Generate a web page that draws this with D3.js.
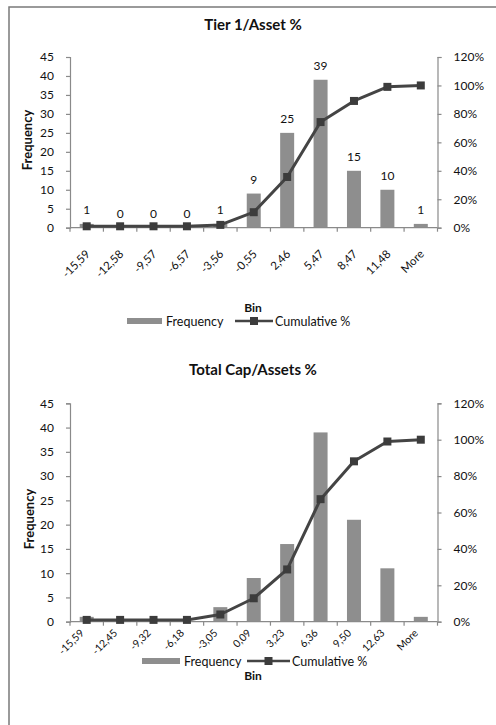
<!DOCTYPE html>
<html>
<head>
<meta charset="utf-8">
<script src="https://cdn.jsdelivr.net/npm/d3@7"></script>
<style>
  html, body { margin: 0; padding: 0; background: #fff; }
  svg { display: block; font-family: Lato, "Open Sans", sans-serif; }
</style>
</head>
<body>
<svg id="chart" width="496" height="725"></svg>
<script>
// Histogram bins and counts for the two capital ratios
const tierBins = ["-15,59", "-12,58", "-9,57", "-6,57", "-3,56", "-0,55", "2,46", "5,47", "8,47", "11,48", "More"];
const tierFreq = [1, 0, 0, 0, 1, 9, 25, 39, 15, 10, 1];

const totalBins = ["-15,59", "-12,45", "-9,32", "-6,18", "-3,05", "0,09", "3,23", "6,36", "9,50", "12,63", "More"];
const totalFreq = [1, 0, 0, 0, 3, 9, 16, 39, 21, 11, 1];

const freqTicks = [0, 5, 10, 15, 20, 25, 30, 35, 40, 45];
const pctTicks = [0, 0.2, 0.4, 0.6, 0.8, 1.0, 1.2];

const svg = d3.select("#chart");

// outer frame
svg.append("rect").attr("x", 9).attr("y", 7).attr("width", 600).attr("height", 800)
  .attr("fill", "none").attr("stroke", "#7a7a7a").attr("stroke-width", 1.5);

function cumulative(arr) {
  const total = d3.sum(arr);
  let run = 0;
  return arr.map(v => (run += v) / total);
}

function drawPareto(cfg) {
  const { title, bins, freq, top, bottom, titleY, labelsOn, binY, legendY, yLabelX, yLabelY, tickDx, tickDy } = cfg;
  const left = 70, right = 437.5;
  const g = svg.append("g");

  const x = d3.scaleBand().domain(bins).range([left, right]);
  const y = d3.scaleLinear().domain([0, 45]).range([bottom, top]);
  const y2 = d3.scaleLinear().domain([0, 1.2]).range([bottom, top]);
  const cum = cumulative(freq);

  g.append("text").attr("x", 253).attr("y", titleY).attr("text-anchor", "middle")
    .attr("font-size", 15).attr("font-weight", "bold").attr("fill", "#111").text(title);

  // bars
  const bw = 14;
  g.selectAll("rect.bar").data(freq).join("rect")
    .attr("x", (d, i) => x(bins[i]) + x.bandwidth() / 2 - bw / 2)
    .attr("y", d => y(d))
    .attr("width", bw)
    .attr("height", d => bottom - y(d))
    .attr("fill", "#8e8e8e");

  if (labelsOn) {
    g.selectAll("text.val").data(freq).join("text")
      .attr("x", (d, i) => x(bins[i]) + x.bandwidth() / 2)
      .attr("y", d => y(d) - 10)
      .attr("text-anchor", "middle").attr("font-size", 12).attr("fill", "#111")
      .text(d => d);
  }

  // left axis
  const ax = g.append("g").attr("transform", `translate(${left},0)`)
    .call(d3.axisLeft(y).tickValues(freqTicks).tickSize(4).tickPadding(12));
  // right axis
  const ax2 = g.append("g").attr("transform", `translate(${right},0)`)
    .call(d3.axisRight(y2).tickValues(pctTicks).tickSize(4).tickPadding(12).tickFormat(d3.format(".0%")));
  // bottom axis (ticks at band edges)
  const edges = bins.map(b => x(b)).concat([right]);
  const bx = g.append("g");
  bx.append("line").attr("x1", left).attr("x2", right).attr("y1", bottom).attr("y2", bottom);
  bx.selectAll("line.t").data(edges).join("line")
    .attr("x1", d => d).attr("x2", d => d).attr("y1", bottom).attr("y2", bottom + 4);
  bx.selectAll("line").attr("stroke", "#8a8a8a").attr("stroke-width", 1.2);

  [ax, ax2].forEach(a => {
    a.select(".domain").attr("stroke", "#8a8a8a").attr("stroke-width", 1.2);
    a.selectAll(".tick line").attr("stroke", "#8a8a8a").attr("stroke-width", 1.2);
    a.selectAll(".tick text").attr("font-size", 12).attr("fill", "#111").attr("font-family", "Lato, sans-serif");
  });

  // rotated category labels
  g.selectAll("text.cat").data(bins).join("text")
    .attr("transform", d => `translate(${x(d) + x.bandwidth() / 2 + tickDx},${bottom + tickDy}) rotate(-45)`)
    .attr("text-anchor", "end").attr("font-size", cfg.catSize).attr("fill", "#111").text(d => d);

  // cumulative line
  const cx = (d, i) => x(bins[i]) + x.bandwidth() / 2;
  const line = d3.line().x(cx).y(d => y2(d));
  g.append("path").datum(cum).attr("d", line).attr("fill", "none")
    .attr("stroke", "#444").attr("stroke-width", 3).attr("stroke-linejoin", "round");
  g.selectAll("rect.mk").data(cum).join("rect")
    .attr("x", (d, i) => cx(d, i) - 4).attr("y", d => y2(d) - 4)
    .attr("width", 8).attr("height", 8).attr("fill", "#3c3c3c");

  // axis titles
  g.append("text").attr("transform", `translate(${yLabelX},${yLabelY}) rotate(-90)`)
    .attr("text-anchor", "middle").attr("font-size", 13).attr("font-weight", "bold").attr("fill", "#111")
    .text("Frequency");
  g.append("text").attr("x", 253).attr("y", binY).attr("text-anchor", "middle")
    .attr("font-size", 12).attr("font-weight", "bold").attr("fill", "#111").text("Bin");

  // legend
  const lg = g.append("g").attr("transform", `translate(${cfg.legendX},${legendY})`);
  lg.append("rect").attr("x", 0).attr("y", -3).attr("width", cfg.swatchW).attr("height", 6).attr("fill", "#8e8e8e");
  lg.append("text").attr("x", cfg.swatchW + 4).attr("y", 4.5).attr("font-size", 12.5).attr("fill", "#111").text("Frequency");
  lg.append("line").attr("x1", cfg.lineX).attr("x2", cfg.lineX + cfg.lineW).attr("y1", 0).attr("y2", 0)
    .attr("stroke", "#444").attr("stroke-width", 2.5);
  lg.append("rect").attr("x", cfg.lineX + cfg.lineW / 2 - 4).attr("y", -4).attr("width", 8).attr("height", 8).attr("fill", "#3c3c3c");
  lg.append("text").attr("x", cfg.lineX + cfg.lineW + 2).attr("y", 4.5).attr("font-size", 12.5).attr("fill", "#111").text("Cumulative %");
}

drawPareto({
  title: "Tier 1/Asset %", bins: tierBins, freq: tierFreq,
  top: 57, bottom: 227.7, titleY: 30, labelsOn: true,
  binY: 312, legendY: 321, legendX: 127, swatchW: 35, lineX: 108, lineW: 38,
  yLabelX: 32, yLabelY: 140, tickDx: 4, tickDy: 27, catSize: 11.5
});

drawPareto({
  title: "Total Cap/Assets %", bins: totalBins, freq: totalFreq,
  top: 403.3, bottom: 621.7, titleY: 375, labelsOn: false,
  binY: 680, legendY: 661, legendX: 142, swatchW: 38, lineX: 105, lineW: 43,
  yLabelX: 34, yLabelY: 519, tickDx: -2, tickDy: 12, catSize: 10.5
});
</script>
</body>
</html>
